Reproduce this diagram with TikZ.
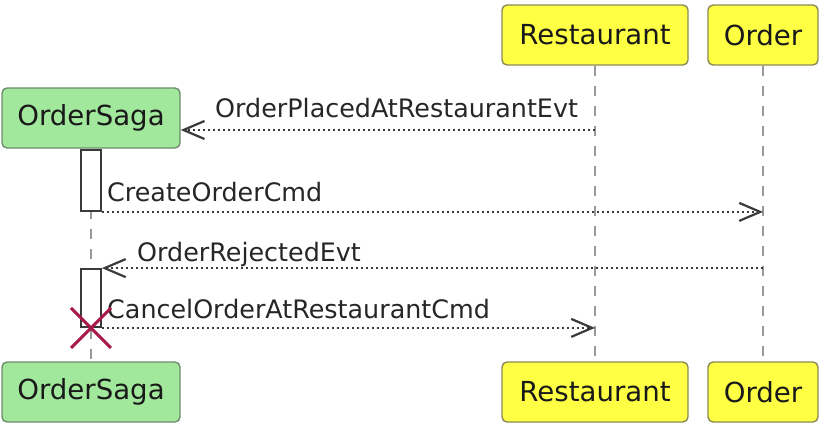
\documentclass[tikz,border=0pt]{standalone}
\usepackage{fontspec}
\setmainfont{DejaVu Sans}
\usepackage{xcolor}
\usetikzlibrary{arrows.meta}
\definecolor{sagagreen}{HTML}{A2E89C}
\definecolor{sagaborder}{HTML}{6E8C6C}
\definecolor{partyellow}{HTML}{FFFF44}
\definecolor{partborder}{HTML}{8A8A58}
\definecolor{msgline}{HTML}{3A3A3A}
\definecolor{lifegray}{HTML}{999999}
\definecolor{destroyred}{HTML}{A8194A}

\tikzset{
  participant/.style={draw, rounded corners=5pt, line width=1.4pt, minimum height=60pt,
    inner sep=0pt, text=black!90, font=\fontsize{27.6}{33}\selectfont},
  saga/.style={participant, fill=sagagreen, draw=sagaborder, minimum width=178pt},
  party/.style={participant, fill=partyellow, draw=partborder},
  lifeline/.style={draw=lifegray, line width=2pt, dash pattern=on 10pt off 10pt},
  activation/.style={draw=msgline, fill=white, line width=1.8pt, minimum width=20pt, inner sep=0pt},
  msg/.style={draw=msgline, line width=1.7pt, dash pattern=on 2.5pt off 2.5pt,
    -{Straight Barb[length=21pt, width=18pt, line width=2.2pt]}},
  msglabel/.style={anchor=base west, inner sep=0pt, text=black!85, font=\fontsize{25.4}{30}\selectfont}
}

\begin{document}
\begin{tikzpicture}[x=1pt, y=-1pt]
\useasboundingbox (0,0) rectangle (826,428);

% participants, top and bottom
\node[saga] (sagaTop) at (91,118) {OrderSaga};
\node[party, minimum width=186pt] (restTop) at (595,35) {Restaurant};
\node[party, minimum width=110pt] (orderTop) at (763,35) {Order};
\node[saga] (sagaBot) at (91,392) {OrderSaga};
\node[party, minimum width=186pt] (restBot) at (595,392) {Restaurant};
\node[party, minimum width=110pt] (orderBot) at (763,392) {Order};

% lifelines
\draw[lifeline] (sagaTop.south) -- (sagaBot.north);
\draw[lifeline] (restTop.south) -- (restBot.north);
\draw[lifeline] (orderTop.south) -- (orderBot.north);

% activations
\node[activation, minimum height=61pt] (act1) at (91,180.5) {};
\node[activation, minimum height=58pt] (act2) at (91,298) {};

% messages
\coordinate (m1) at (0,130);
\draw[msg] (restTop |- m1) -- (sagaTop.east |- m1);
\node[msglabel] (lblPlaced) at (215,117) {OrderPlacedAtRestaurantEvt};

\draw[msg] (act1.south east) -- (orderTop |- act1.south);
\node[msglabel] (lblCreate) at (107,201) {CreateOrderCmd};

\draw[msg] (orderTop |- act2.north) -- (act2.north east);
\node[msglabel] (lblRejected) at (137,261) {OrderRejectedEvt};

\draw[msg] (act2.south east) -- (restTop |- act2.south);
\node[msglabel] (lblCancel) at (107,318) {CancelOrderAtRestaurantCmd};

% destroy
\draw[destroyred, line width=3pt] ([shift={(-20,-20)}]act2.south) -- ([shift={(20,20)}]act2.south)
  ([shift={(-20,20)}]act2.south) -- ([shift={(20,-20)}]act2.south);
\end{tikzpicture}
\end{document}
